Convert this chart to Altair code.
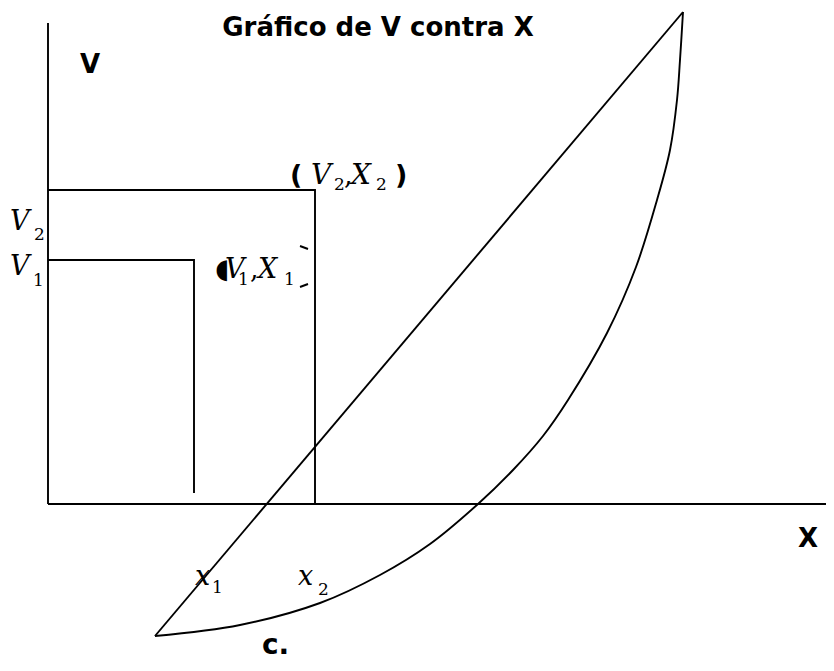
import altair as alt
import pandas as pd

# Coordinate system: X to the right, V upward, origin where the axes cross.
# ---- straight segments (axes, reference boxes, diagonal, bracket marks) ----
seg_id = ["yaxis", "yaxis", "xaxis", "xaxis",
          "box2", "box2", "box2",
          "box1", "box1", "box1",
          "diag", "diag",
          "mk1", "mk1", "mk2", "mk2"]
seg_ord = [0, 1, 0, 1,
           0, 1, 2,
           0, 1, 2,
           0, 1,
           0, 1, 0, 1]
seg_x = [0, 0, 0, 790,
         0, 267, 267,
         0, 146, 146,
         107, 635,
         252, 260, 252, 260]
seg_v = [0, 481, 0, 0,
         314, 314, 0,
         244, 244, 11,
         -132, 492,
         258, 255, 217, 220]

# ---- curved branch ----
curve_x = [107, 192, 272, 332, 382, 430, 465, 495, 520, 559, 588, 609, 622, 629, 632, 635]
curve_v = [-132, -121, -99, -71, -40, 0, 34, 68, 104, 171, 237, 304, 354, 404, 444, 492]

# ---- title ----
title_text = ["Gráfico de V contra X"]
title_x = [330]
title_v = [468]

# ---- bold sans labels ----
bold_text = ["V", "X", "c.", "(", ")"]
bold_x = [32, 750, 214, 242, 347]
bold_v = [431, -43, -150, 320, 320]
bold_size = [26, 26, 28, 27, 27]

# ---- italic serif letters ----
ital_text = ["V", "V", "V", "X", "V", "X", "x", "x"]
ital_x = [-38, -38, 263, 303, 177, 210, 147, 250]
ital_v = [274, 229, 320, 320, 226, 226, -81, -81]
ital_size = [27, 27, 28, 28, 27, 27, 27, 27]

# ---- upright serif subscripts and commas ----
sub_text = ["2", "1", "2", ",", "2", "1", ",", "1", "1", "2"]
sub_x = [-14, -15, 286, 296, 328, 190, 202, 236, 164, 270]
sub_v = [264, 218, 314, 320, 314, 219, 226, 219, -89, -91]
sub_size = [17, 17, 17, 27, 17, 17, 27, 17, 17, 17]

# ---- broken bracket glyph ----
glyph_text = ["◖"]
glyph_x = [167]
glyph_v = [226]

segs = pd.DataFrame({"seg": seg_id, "ord": seg_ord, "X": seg_x, "V": seg_v})
curve = pd.DataFrame({"ord": list(range(len(curve_x))), "X": curve_x, "V": curve_v})
titles = pd.DataFrame({"t": title_text, "X": title_x, "V": title_v})
bolds = pd.DataFrame({"t": bold_text, "X": bold_x, "V": bold_v, "s": bold_size})
itals = pd.DataFrame({"t": ital_text, "X": ital_x, "V": ital_v, "s": ital_size})
subs = pd.DataFrame({"t": sub_text, "X": sub_x, "V": sub_v, "s": sub_size})
glyphs = pd.DataFrame({"t": glyph_text, "X": glyph_x, "V": glyph_v})

xs = alt.Scale(domain=[-40, 778], nice=False, zero=False)
ys = alt.Scale(domain=[-159, 496], nice=False, zero=False)
X = alt.X("X:Q", scale=xs, axis=None)
Y = alt.Y("V:Q", scale=ys, axis=None)

lines = alt.Chart(segs).mark_line(color="black", strokeWidth=1.9).encode(
    x=X, y=Y, detail="seg:N", order="ord:Q")

curve_layer = alt.Chart(curve).mark_line(color="black", strokeWidth=1.9, interpolate="catmull-rom").encode(
    x=X, y=Y, order="ord:Q")

title_layer = alt.Chart(titles).mark_text(font="DejaVu Sans", fontWeight="bold", fontSize=26,
                                          align="center", baseline="alphabetic", color="black").encode(
    x=X, y=Y, text="t:N")

bold_layer = alt.Chart(bolds).mark_text(font="DejaVu Sans", fontWeight="bold",
                                        align="left", baseline="alphabetic", color="black").encode(
    x=X, y=Y, text="t:N", size=alt.Size("s:Q", scale=None))

ital_layer = alt.Chart(itals).mark_text(font="DejaVu Serif", fontStyle="italic",
                                        align="left", baseline="alphabetic", color="black").encode(
    x=X, y=Y, text="t:N", size=alt.Size("s:Q", scale=None))

sub_layer = alt.Chart(subs).mark_text(font="DejaVu Serif",
                                      align="left", baseline="alphabetic", color="black").encode(
    x=X, y=Y, text="t:N", size=alt.Size("s:Q", scale=None))

glyph_layer = alt.Chart(glyphs).mark_text(font="DejaVu Sans", fontSize=27,
                                          align="left", baseline="alphabetic", color="black").encode(
    x=X, y=Y, text="t:N")

chart = alt.layer(lines, curve_layer, title_layer, bold_layer, ital_layer, sub_layer, glyph_layer).properties(
    width=818, height=655, padding=0, autosize=alt.AutoSizeParams(type="none"), background="white"
).configure_view(stroke=None)

chart.save("out.html", embed_options={"renderer": "svg", "actions": False})
